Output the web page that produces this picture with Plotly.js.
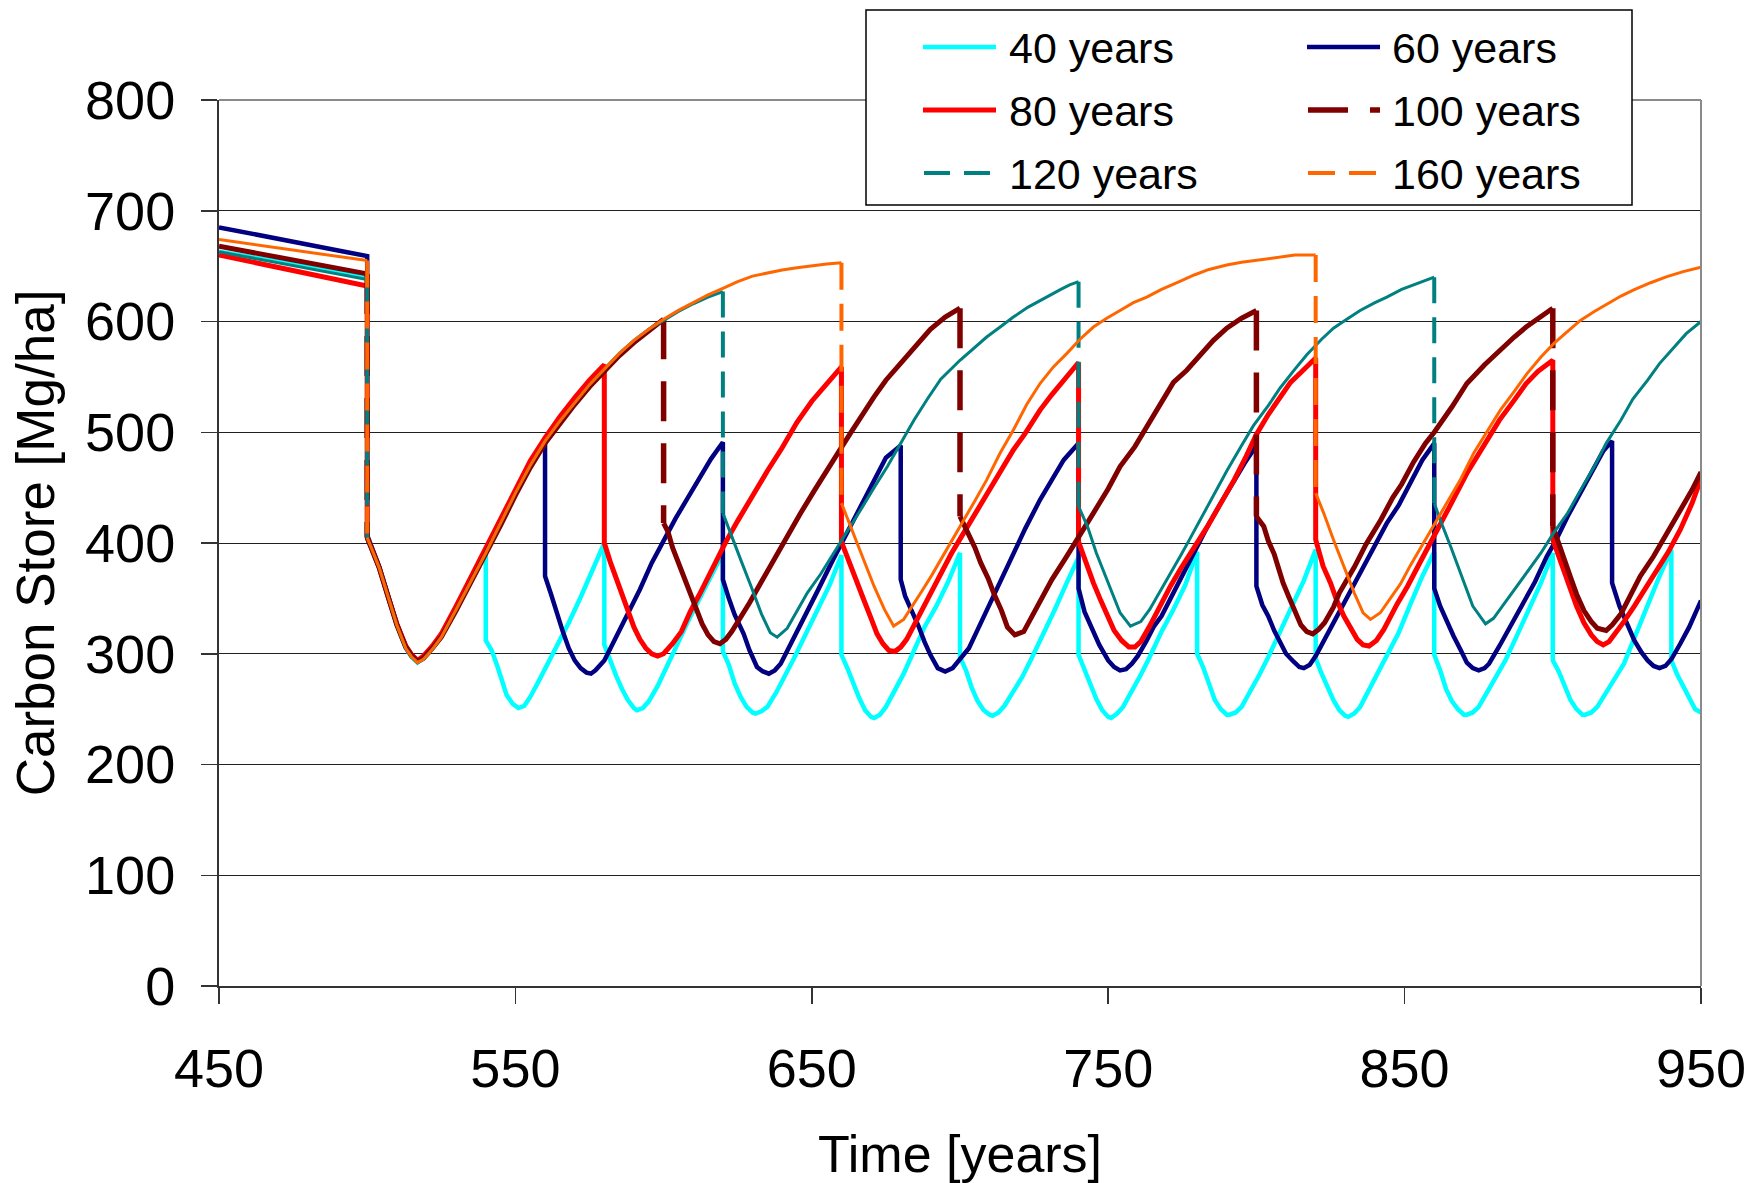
<!DOCTYPE html>
<html>
<head>
<meta charset="utf-8">
<script src="https://cdn.plot.ly/plotly-3.0.1.min.js"></script>
<style>html,body{margin:0;padding:0;background:#fff;}#chart{width:1749px;height:1183px;}</style>
</head>
<body>
<div id="chart"></div>
<script>
// ---------------- data ----------------
const seriesNames = ['40 years','60 years','80 years','100 years','120 years','160 years'];

const t40 = [450,500,500,502,504,507,510,513,515,517,519,522,525,530,535,540,
540,542,544,547,549,551,553,555,558,561,564,568,572,576,580,
580,582,584,586,588,590,591,593,595,598,601,604,608,612,616,620,
620,622,624,626,628,630,631,633,635,638,641,644,648,652,656,660,
660,662,664,666,668,670,671,673,675,678,681,684,688,692,696,700,
700,702,704,706,708,710,711,713,715,718,721,724,728,732,736,740,
740,742,744,746,748,750,751,753,755,758,761,764,768,772,776,780,
780,782,784,786,788,790,791,793,795,798,801,804,808,812,816,820,
820,822,824,826,828,830,831,833,835,838,841,844,848,852,856,860,
860,862,864,866,868,870,871,873,875,878,881,884,888,892,896,900,
900,902,904,906,908,910,911,913,915,918,921,924,928,932,936,940,
940,942,944,946,948,950];
const c40 = [663,641,405,392,378,352,326,305,297,292,296,305,316,341,366,391,
312,303,288,263,255,251,253,261,276,291,306,328,351,376,400,
308,293,280,268,258,251,249,251,257,271,287,305,328,348,370,391,
302,290,273,261,252,247,246,248,252,265,280,296,318,340,362,389,
299,287,273,260,249,243,242,245,252,266,282,300,324,343,365,391,
297,285,269,257,249,245,244,247,253,266,279,295,317,340,364,387,
299,285,272,259,249,243,242,246,252,266,281,297,320,340,362,392,
300,288,272,258,250,245,245,247,252,266,281,297,320,342,366,394,
296,282,269,258,249,244,243,246,252,267,282,297,319,345,370,392,
299,285,268,257,250,245,245,247,252,266,280,294,317,340,364,391,
294,284,272,258,250,245,245,247,252,266,278,291,318,344,370,394,
294,281,271,259,250,247];

const t60 = [450,500,500,502,504,507,510,513,515,517,519,522,525,530,535,540,545,550,555,560,
560,562,564,566,568,570,572,574,575.5,577,580,584,588,592,596,600,604,608,612,616,620,
620,622,624,627,629,631.5,633.5,635.5,637.5,639.5,644,648,652,657,662,666,671,675,680,
680,681.5,683.5,686,688,690,692.5,695,697.5,700,703,706,709,713,718,722,727,731,735,740,
740,742,744,747,750,752,754,756,758,760,763,765.5,768,771,774.5,779,783.5,788,792.5,796,800,
800,802,804,806,808,810,812.5,814.5,816,818,820,823,826,830,835,840,844,848,852,856,860,
860,862,864,866.5,869,871,873,875,877,878.5,882,886,890,894,898,901,905,909,913,917,920,
920,922.5,925,927.5,930,932,934,936,938,940,943,946,950];
const c60 = [685,659,407,393,379,353,327,307,299,294,297,306,316,341,366,392,419,446,471,493,
370,354,336,320,305,294,287,283,282,285,294,315,335,358,382,403,422,440,458,476,491,
367,350,335,318,303,288,284,282,285,291,314,335,357,384,410,431,456,477,488,
367,352,341,325,311,299,287,284,287,295,305,322,339,362,391,413,439,457,475,490,
359,338,325,308,294,288,285,286,291,298,312,325,334,350,367,391,415,436,457,472,488,
361,344,334,321,310,300,293,288,287,290,298,313,327,347,372,396,418,434,454,475,490,
359,343,330,316,303,292,287,285,287,291,307,326,345,365,388,402,424,444,465,483,492,
364,343,327,312,301,294,289,287,289,295,309,324,348];

const t80 = [450,500,500,502,504,507,510,513,515,517,519,522,525,530,535,540,545,550,555,560,565,570,575,580,
580,582,584,586,588,590,592,594,596,598,600,603,606,609,612,616,621,625,630,635,640,645,650,655,660,
660,663,665.5,667.5,670,672,674,676,678,680,682,684.5,686.5,690,693.5,697,701,705,709,713,718,722,727,731,734,737,740,
740,743,745,747.5,750,752,754.5,757,759,761,764,767.5,771,774.5,779,783.5,788,792.5,796.5,800,804,808,811.5,815,817.5,820,
820,822.5,825,827,829.5,832,834,836,838,840.5,843,847.5,851,855.5,860,865,871,876,882,887,891,895,898,900,
900,902,904,906,908,910.5,913,915,917,919,921,924,927.5,931,935,939,943,947,950];
const c80 = [660,632,405,392,378,352,327,307,299,294,298,307,318,343,369,395,422,449,474,495,514,531,547,561,
400,383,368,352,338,324,313,305,300,298,300,309,320,338,353,375,401,420,443,465,486,509,528,543,559,
401,379,362,349,332,318,309,303,302,306,313,325,336,354,373,390,408,426,445,463,484,499,520,534,544,554,563,
401,378,364,348,333,321,312,306,306,311,325,344,361,377,395,415,436,457,478,498,516,532,545,554,561,567,
403,379,364,349,334,321,313,308,307,312,322,345,361,384,406,432,463,485,511,529,544,555,561,565,
403,388,371,357,343,328,317,311,308,311,318,329,343,358,375,392,412,436,458];

const t100 = [450,500,500,502,504,507,510,513,515,517,519,522,525,530,535,540,545,550,555,560,565,570,575,580,585,590,595,600,
600,601.5,603,605,607,609,611,613,615,617,619,621,623,626,629,633,637,641,646,651,655,659,663,667,671,675,680,685,690,695,700,
700,702.5,705,707,709.5,711.5,714,716,718.5,721.5,724,727,731,736,741,745,750,754,759,763,768,772,776.5,781,785.5,790,795,800,
800,802.5,804,806,807.5,809,811,813,815,817,819,821,823,826,828,833,837,842,846,849,853,857,860,866,871,877,882,887,891,895,900,
900,902.5,904,906,908,910.5,913,915,918,920,923,926,929.5,934,938.5,943,947,950];
const c100 = [668,643,405,392,378,352,326,306,298,293,296,305,315,339,364,390,416,443,468,490,508,525,541,555,569,581,592,602,
418,410,396,382,367,353,338,327,317,311,309,313,320,332,346,365,384,403,426,448,466,482,499,516,532,547,562,578,593,604,612,
424,411,396,382,368,354,339,324,317,320,333,348,367,388,409,427,449,469,487,505,527,545,556,570,583,594,603,610,
424,415,402,390,377,364,351,337,326,320,318,322,328,342,355,378,399,421,441,453,473,490,500,523,544,561,574,586,595,603,612,
415,397,385,369,354,339,329,323,321,326,336,351,370,388,409,428,448,464];

const t120 = [450,500,500,502,504,507,510,513,515,517,519,522,525,530,535,540,545,550,555,560,565,570,575,580,585,590,595,600,605,610,615,620,
620,622.5,626,629.5,633,636,638.3,641.7,645,648.5,653,657.5,662,666.5,671,675.5,680,684.5,689,693.5,700,705,709,714,718,723,727,731,734,737,740,
740,743,746,749.5,754,757.5,761,764,767.5,771,774.5,777,781,786,790,795,799,804,808,813,817,822,826,831,835,840,844,849,853,856,860,
860,862,865.5,869,873,877.3,880,883,887,891,896,900,905,909,914,918,923,927,932,936,941,945,950];
const c120 = [663,638,405,392,378,352,326,305,297,292,295,304,315,340,365,391,418,445,470,492,510,527,543,557,571,583,593,601,609,616,622,627,
427,409,385,361,336,319,315,323,338,355,372,391,410,430,450,469,490,511,530,548,565,577,586,596,604,613,619,625,629,633,636,
433,415,391,367,337,325,329,340,356,372,389,401,421,445,465,488,506,524,540,557,570,584,594,603,610,617,622,629,633,636,640,
436,421,397,372,343,327,332,343,358,373,391,408,427,446,469,490,511,530,547,562,577,589,600];

const t160 = [450,500,500,502,504,507,510,513,515,517,519,522,525,530,535,540,545,550,555,560,565,570,575,580,585,590,595,600,605,610,615,620,625,630,635,640,645,650,655,660,
660,664,667.5,671,674.5,677.6,681,684,687,690.5,694,697.5,701.5,705,709,713.5,718,722.5,727,731.5,736,740.5,745,749.5,754,758.5,763,768,774,779,784,790,795,801,807,813,820,
820,822.7,826,829.5,833,836,838.5,841.8,845,848.6,852,855.3,860,864.3,869,873.3,878,882.3,887,891.3,896,900.3,905,909.3,914,918.3,923,927.3,933,938.5,944,950];
const c160 = [674,655,405,392,378,352,326,305,297,292,295,304,315,340,365,391,418,445,470,492,510,527,543,557,571,583,593,602,610,617,624,630,636,641,644,646.5,648.5,650.5,652,653,
436,409,385,361,340,325,331,343,356,371,387,403,421,438,457,481,502,525,544,559,571,584,595,603,610,617,622,629,636,642,647,651,653.5,655.5,658,660,660,
445,427,403,379,355,337,331,337,349,363,380,395,416,436,458,481,501,520,537,553,568,580,591,601,609,616,623,628.5,635,640.5,645,649];

const xTickVals = [450,550,650,750,850,950];
const yTickVals = [0,100,200,300,400,500,600,700,800];

// ---------------- styles ----------------
const times = [t40,t60,t80,t100,t120,t160];
const stores = [c40,c60,c80,c100,c120,c160];
const styles = [
  {color:'#00FFFF', width:4.5, dropDash:null},
  {color:'#000080', width:4.5, dropDash:null},
  {color:'#FF0000', width:5,   dropDash:null},
  {color:'#800000', width:5,   dropDash:'40px,22px', dropWidth:5.5},
  {color:'#008080', width:3,   dropDash:'26px,14px', dropWidth:4},
  {color:'#FF6600', width:3,   dropDash:'27px,14px', dropWidth:4}
];

const traces = [];
seriesNames.forEach((name, k) => {
  const t = times[k], c = stores[k], s = styles[k];
  if (!s.dropDash) {
    traces.push({type:'scatter', mode:'lines', name:name, x:t, y:c,
      line:{color:s.color, width:s.width}, showlegend:false});
  } else {
    const cx=[], cy=[], dx=[], dy=[];
    for (let i=0;i<t.length;i++){
      if (i>0 && t[i]===t[i-1]) {
        cx.push(null); cy.push(null);
        dx.push(t[i-1], t[i], null); dy.push(c[i-1], c[i], null);
      }
      cx.push(t[i]); cy.push(c[i]);
    }
    traces.push({type:'scatter', mode:'lines', name:name, x:cx, y:cy, connectgaps:false,
      line:{color:s.color, width:s.width}, showlegend:false});
    traces.push({type:'scatter', mode:'lines', name:name, x:dx, y:dy, connectgaps:false,
      line:{color:s.color, width:s.dropWidth, dash:s.dropDash}, showlegend:false});
  }
});

// ---------------- layout ----------------
const L=219, T=100, W=1482, H=886;
const px = v => (v-L)/W;
const py = v => (T+H-v)/H;

const font = '"Liberation Sans", Arial, Helvetica, sans-serif';
const shapes = [
  {type:'line', xref:'paper', yref:'paper', x0:0, x1:1, y0:1, y1:1, line:{color:'#8a8a8a', width:2}, layer:'above'},
  {type:'line', xref:'paper', yref:'paper', x0:1, x1:1, y0:0, y1:1, line:{color:'#8a8a8a', width:2}, layer:'above'},
  {type:'rect', xref:'paper', yref:'paper', x0:px(866), x1:px(1632), y0:py(205), y1:py(10),
    fillcolor:'#ffffff', line:{color:'#000000', width:1.5}, layer:'above'}
];
const annotations = [];
const legendCols = [[923,996,1007],[1307,1380,1390]];
const legendRows = [47,110,173];
const legendEnds = [996,1380,996,1380,993,1377];
seriesNames.forEach((name,k) => {
  const col = legendCols[k%2], row = legendRows[Math.floor(k/2)], s = styles[k];
  shapes.push({type:'line', xref:'paper', yref:'paper', x0:px(col[0]+(s.dropDash?1:0)), x1:px(legendEnds[k]),
    y0:py(row), y1:py(row), layer:'above',
    line:{color:s.color, width:s.dropDash ? s.dropWidth : s.width, dash:s.dropDash || 'solid'}});
  annotations.push({xref:'paper', yref:'paper', x:px(col[2]), y:py(row+1), xanchor:'left', yanchor:'middle',
    text:name, showarrow:false, font:{family:font, size:43, color:'#000'}});
});

const layout = {
  width:1749, height:1183,
  margin:{l:L, r:1749-L-W, t:T, b:1183-T-H, pad:0},
  paper_bgcolor:'#ffffff', plot_bgcolor:'#ffffff',
  showlegend:false,
  font:{family:font, color:'#000000'},
  xaxis:{range:[450,950], tickvals:xTickVals, ticktext:xTickVals.map(String),
    ticks:'outside', ticklen:16, tickwidth:1.5, tickcolor:'#333333',
    showline:true, linecolor:'#333333', linewidth:2, showgrid:false, zeroline:false,
    tickfont:{family:font, size:54, color:'#000'}, ticklabelstandoff:18,
    title:{text:'Time [years]', font:{family:font, size:52, color:'#000'}, standoff:42}},
  yaxis:{range:[0,800], tickvals:yTickVals, ticktext:yTickVals.map(String),
    ticks:'outside', ticklen:16, tickwidth:1.5, tickcolor:'#333333',
    showline:true, linecolor:'#333333', linewidth:2, showgrid:true, gridcolor:'#202020', gridwidth:1, zeroline:false,
    tickfont:{family:font, size:54, color:'#000'}, ticklabelstandoff:15,
    title:{text:'Carbon Store [Mg/ha]', font:{family:font, size:53, color:'#000'}, standoff:14}},
  shapes:shapes,
  annotations:annotations
};

Plotly.newPlot('chart', traces, layout, {staticPlot:true, displayModeBar:false});
</script>
</body>
</html>
